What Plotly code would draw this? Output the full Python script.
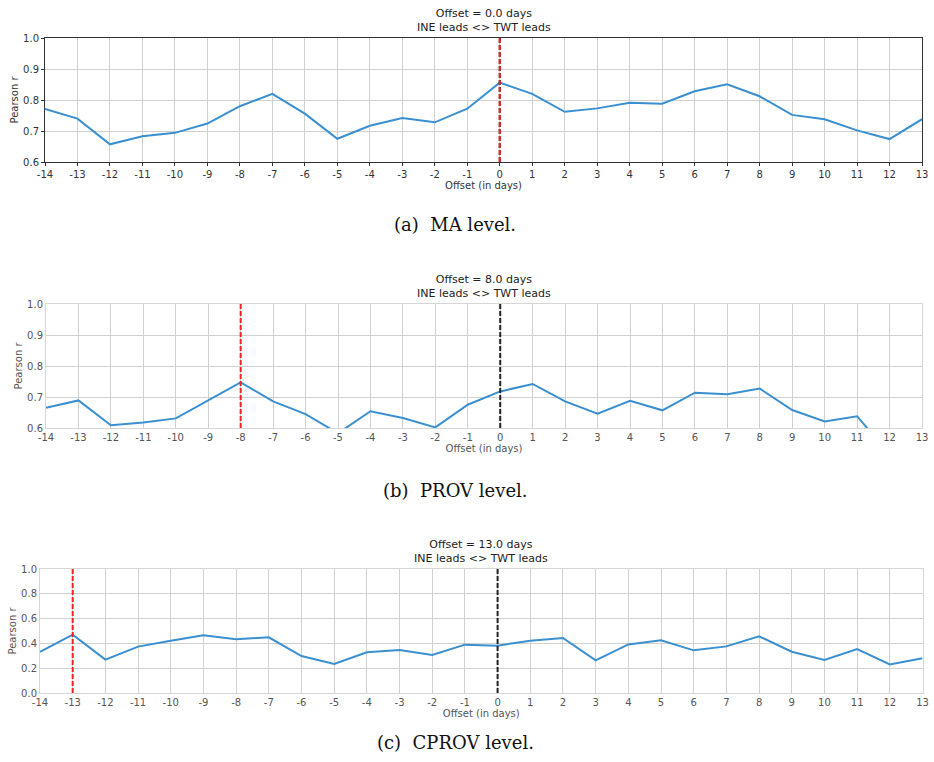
import plotly.graph_objects as go

W, H = 934, 762

offsets = list(range(-14, 14))

ma_r = [0.771, 0.740, 0.657, 0.683, 0.694, 0.724, 0.780, 0.820, 0.756, 0.675,
        0.717, 0.742, 0.728, 0.772, 0.856, 0.820, 0.762, 0.773, 0.791, 0.788,
        0.828, 0.851, 0.812, 0.752, 0.738, 0.702, 0.674, 0.738]

prov_r = [0.665, 0.689, 0.609, 0.618, 0.631, 0.690, 0.747, 0.686, 0.645, 0.583,
          0.654, 0.632, 0.602, 0.675, 0.718, 0.742, 0.686, 0.646, 0.688, 0.657,
          0.714, 0.709, 0.727, 0.658, 0.621, 0.638, 0.515, 0.550]

cprov_r = [0.331, 0.470, 0.269, 0.374, 0.422, 0.465, 0.433, 0.449, 0.298, 0.234,
           0.328, 0.347, 0.306, 0.390, 0.382, 0.422, 0.444, 0.263, 0.392, 0.425,
           0.344, 0.376, 0.457, 0.333, 0.266, 0.355, 0.231, 0.280]

best_offsets = [0, -8, -13]
title_offsets = ["0.0", "8.0", "13.0"]
captions = ["(a)  MA level.", "(b)  PROV level.", "(c)  CPROV level."]
series = [ma_r, prov_r, cprov_r]
y_ranges = [[0.6, 1.0], [0.6, 1.0], [0.0, 1.0]]
y_ticks = [[0.6, 0.7, 0.8, 0.9, 1.0], [0.6, 0.7, 0.8, 0.9, 1.0],
           [0.0, 0.2, 0.4, 0.6, 0.8, 1.0]]

# pixel boxes (left, right, top, bottom)
boxes = [(45, 922, 38, 162), (46, 922, 304, 428), (40, 922.5, 569, 693)]
caption_y = [224, 490, 742]

BLUE = "#3a8fd0"
RED = "#ee2222"
FONT = "DejaVu Sans"

fig = go.Figure()
annotations = []
shapes = []

for i in range(3):
    l, r, t, b = boxes[i]
    xa = "xaxis" if i == 0 else f"xaxis{i+1}"
    ya = "yaxis" if i == 0 else f"yaxis{i+1}"
    xref = "x" if i == 0 else f"x{i+1}"
    yref = "y" if i == 0 else f"y{i+1}"
    dark = (i == 0)
    frame = "#333333" if dark else "#d6d6d6"
    tick_col = "#333333" if dark else "#555555"

    fig.add_trace(go.Scatter(x=offsets, y=series[i], mode="lines",
                             line=dict(color=BLUE, width=2),
                             xaxis=xref, yaxis=yref, showlegend=False,
                             hoverinfo="skip"))

    common = dict(showgrid=True, gridcolor="#d0d0d0", gridwidth=1,
                  showline=True, linecolor=frame, linewidth=1, mirror=True,
                  zeroline=False, automargin=False,
                  ticks="outside" if dark else "",
                  ticklen=3 if dark else 0, tickcolor="#333333",
                  tickfont=dict(family=FONT, size=10, color=tick_col))
    fig.layout[xa] = dict(domain=[l / W, r / W], range=[-14, 13],
                          tickmode="array", tickvals=offsets,
                          ticktext=[str(v) for v in offsets],
                          anchor=yref,
                          title=dict(text="Offset (in days)", standoff=2,
                                     font=dict(family=FONT, size=10, color=tick_col)),
                          **common)
    fig.layout[ya] = dict(domain=[1 - b / H, 1 - t / H], range=y_ranges[i],
                          tickmode="array", tickvals=y_ticks[i],
                          ticktext=[f"{v:.1f}" for v in y_ticks[i]],
                          anchor=xref,
                          title=dict(text="Pearson r", standoff=2,
                                     font=dict(family=FONT, size=10, color=tick_col)),
                          **common)

    # reference lines: zero offset (black) and best offset (red)
    shapes.append(dict(type="line", xref=xref, yref=f"{yref} domain",
                       x0=0, x1=0, y0=0, y1=1,
                       line=dict(color="#222222", width=2, dash="5px,2px")))
    shapes.append(dict(type="line", xref=xref, yref=f"{yref} domain",
                       x0=best_offsets[i], x1=best_offsets[i], y0=0, y1=1,
                       line=dict(color=RED, width=2, dash="5px,2px")))

    cx = (l + r) / 2 / W
    annotations.append(dict(text=f"Offset = {title_offsets[i]} days<br>INE leads <> TWT leads",
                            x=cx, y=1 - (t - 2) / H, xref="paper", yref="paper",
                            xanchor="center", yanchor="bottom", showarrow=False,
                            align="center",
                            font=dict(family=FONT, size=11, color="#222222")))
    annotations.append(dict(text=captions[i], x=455 / W, y=1 - caption_y[i] / H,
                            xref="paper", yref="paper", xanchor="center",
                            yanchor="middle", showarrow=False,
                            font=dict(family="DejaVu Serif", size=18, color="#111111")))

fig.update_layout(width=W, height=H, margin=dict(l=0, r=0, t=0, b=0),
                  paper_bgcolor="white", plot_bgcolor="white",
                  shapes=shapes, annotations=annotations, showlegend=False)

fig.write_html("out.html")
